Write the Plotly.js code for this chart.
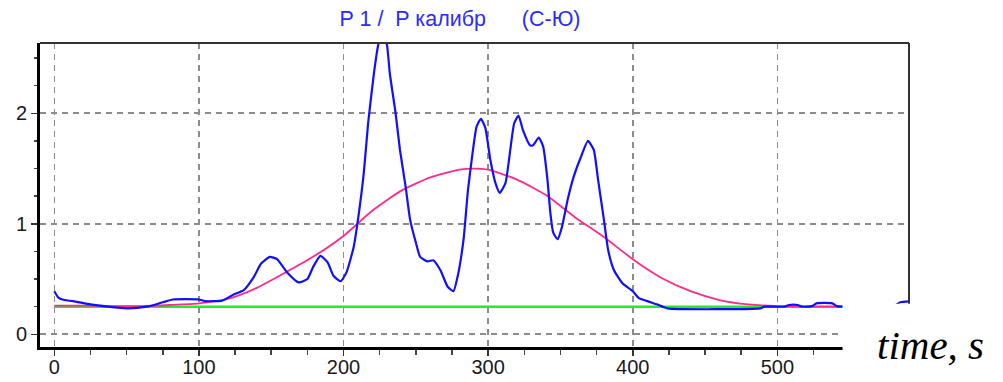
<!DOCTYPE html>
<html>
<head>
<meta charset="utf-8">
<script src="https://cdn.plot.ly/plotly-3.0.1.min.js"></script>
<style>html,body{margin:0;padding:0;background:#fff;}#chart{width:1003px;height:382px;}</style>
</head>
<body>
<div id="chart"></div>
<script>
// Blue series: P1 / P calibr
const blueX = [0,3,7,13,25,37,50,64,75,82,100,104,116,124,131,138,143,149,154,161,169,175,179,184,189,193,198,202,207,210,214,217,221,224,227,230,232,236,239,243,246,250,253,258,262,267,272,276,279,283,286,289,292,295,298,301.5,305,308,312,315,318,321,324,329,331,335,338,341,343,345,348,351,355,359,364,369,373,376,380,383,387,393,400,404,410,417,424,488,491,505,508,514,517,524,527,538,541,560,570,580,585,595];
const blueY = [0.39,0.33,0.31,0.30,0.27,0.25,0.235,0.25,0.29,0.315,0.315,0.30,0.305,0.36,0.40,0.52,0.64,0.70,0.68,0.56,0.47,0.50,0.61,0.71,0.65,0.53,0.48,0.56,0.79,1.04,1.46,1.91,2.36,2.62,2.72,2.62,2.36,2.00,1.67,1.33,1.04,0.83,0.70,0.66,0.67,0.58,0.43,0.39,0.53,0.86,1.30,1.62,1.88,1.95,1.87,1.58,1.37,1.28,1.37,1.64,1.91,1.98,1.85,1.71,1.71,1.78,1.70,1.40,1.10,0.92,0.86,0.97,1.22,1.42,1.60,1.75,1.67,1.40,1.04,0.76,0.58,0.46,0.39,0.33,0.30,0.27,0.235,0.235,0.25,0.25,0.265,0.265,0.25,0.255,0.28,0.28,0.255,0.25,0.25,0.25,0.29,0.30];

// Pink fitted curve
const pinkX = [0,20,40,60,80,100,120,140,160,180,200,220,240,260,280,290,300,320,340,360,380,400,420,440,460,480,500,520,540,560,580,600];
const pinkY = [0.26,0.26,0.255,0.255,0.265,0.28,0.32,0.42,0.56,0.71,0.89,1.12,1.30,1.42,1.49,1.50,1.49,1.40,1.26,1.06,0.88,0.68,0.51,0.39,0.31,0.27,0.255,0.25,0.25,0.25,0.25,0.25];

// Green baseline
const greenX = [0,600];
const greenY = [0.25,0.25];

const xTickVals = [0,100,200,300,400,500];
const yTickVals = [0,1,2];
const titleText = 'P 1 /\u00A0\u00A0P калибр\u00A0\u00A0\u00A0\u00A0\u00A0\u00A0(С-Ю)';
const axisLabel = 'time, s';

const traces = [
  {x: greenX, y: greenY, mode: 'lines', line: {color: '#22ee22', width: 2.5}, hoverinfo: 'skip'},
  {x: pinkX, y: pinkY, mode: 'lines', line: {color: '#ff2a8a', width: 1.8, shape: 'spline', smoothing: 0.6}, hoverinfo: 'skip'},
  {x: blueX, y: blueY, mode: 'lines', line: {color: '#1010ff', width: 2.2, shape: 'spline', smoothing: 0.5}, hoverinfo: 'skip'}
];

const tickFont = {family: 'Arial, Liberation Sans, sans-serif', size: 20, color: '#1a1a1a'};
const gridStyle = {showgrid: true, gridcolor: '#8c8c8c', gridwidth: 1.6, griddash: '6px,5px'};

const layout = {
  width: 1003, height: 382,
  margin: {l: 40, r: 94, t: 43, b: 35, pad: 0},
  paper_bgcolor: '#ffffff', plot_bgcolor: '#ffffff',
  showlegend: false,
  title: {text: titleText, font: {family: 'Arial, Liberation Sans, sans-serif', size: 21.5, color: '#2a2aff'},
          xref: 'container', x: 0.4587, xanchor: 'center', yref: 'container', y: 0.952, yanchor: 'middle'},
  xaxis: Object.assign({
    range: [-9.9, 591], tickmode: 'array', tickvals: xTickVals,
    ticks: 'outside', ticklen: 6, tickwidth: 1.5, tickcolor: '#333',
    showline: true, linecolor: '#000', linewidth: 3, zeroline: false,
    ticklabelstandoff: -6,
    minor: {dtick: 25, tick0: 0, ticks: 'outside', ticklen: 5, tickwidth: 1.5, tickcolor: '#444', showgrid: false},
    tickfont: tickFont, fixedrange: true
  }, gridStyle),
  yaxis: Object.assign({
    range: [-0.115, 2.636], tickmode: 'array', tickvals: yTickVals,
    ticks: 'outside', ticklen: 6, tickwidth: 1.5, tickcolor: '#333',
    showline: true, linecolor: '#000', linewidth: 3, zeroline: false,
    minor: {dtick: 0.25, tick0: 0, ticks: 'outside', ticklen: 3, tickwidth: 1.5, tickcolor: '#444', showgrid: false},
    tickfont: tickFont, fixedrange: true
  }, gridStyle),
  shapes: [
    {type: 'line', xref: 'paper', yref: 'paper', x0: 0, x1: 1, y0: 1, y1: 1, line: {color: '#333', width: 2}, layer: 'above'},
    {type: 'line', xref: 'paper', yref: 'paper', x0: 1, x1: 1, y0: 0, y1: 1, line: {color: '#333', width: 2}, layer: 'above'},
    {type: 'rect', xref: 'paper', yref: 'paper', x0: 0.9235, x1: 1.2, y0: -0.2, y1: 0.142, fillcolor: '#ffffff', line: {width: 0}, layer: 'above'}
  ],
  annotations: [
    {text: '<i>' + axisLabel + '</i>', xref: 'paper', yref: 'paper', x: 1.025, y: 0.006, xanchor: 'center', yanchor: 'middle',
     showarrow: false, font: {family: 'Liberation Serif, Times New Roman, serif', size: 41, color: '#000', style: 'italic'}}
  ]
};

Plotly.newPlot('chart', traces, layout, {displayModeBar: false, staticPlot: true});
</script>
</body>
</html>
